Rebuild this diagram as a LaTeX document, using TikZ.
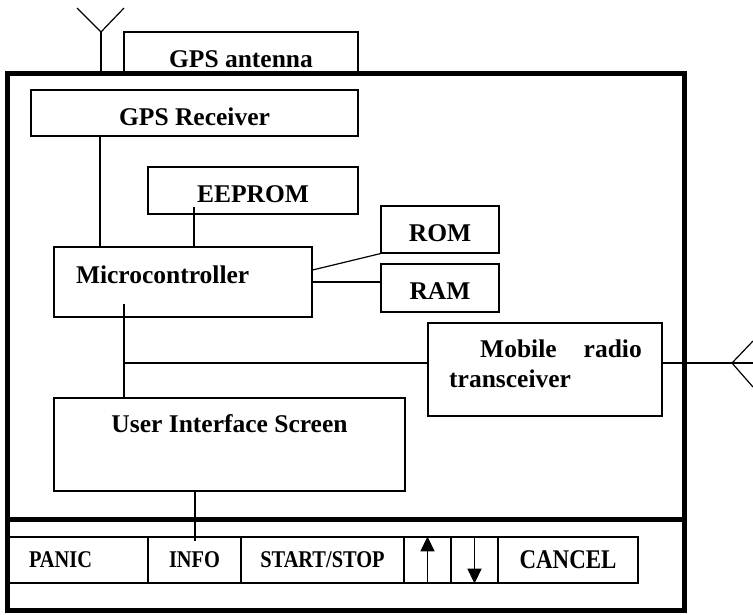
\documentclass[tikz,border=0pt]{standalone}
\usepackage{fontspec}
\setmainfont{Liberation Serif}
\newfontfamily\condfont[FakeStretch=0.85]{Liberation Serif}
\usetikzlibrary{arrows.meta}
\begin{document}
\begin{tikzpicture}[x=1pt,y=-1pt,
  box/.style={draw, line width=1.2pt, inner sep=0pt, font=\fontsize{25.5}{28}\selectfont\bfseries, text height=23pt, text depth=0pt},
  lbl/.style={inner sep=0pt, font=\fontsize{25.5}{28}\selectfont\bfseries},
  btn/.style={draw, line width=1.2pt, inner sep=0pt, minimum height=46pt, text depth=0pt, font=\condfont\fontsize{24}{26}\selectfont\bfseries},
  wire/.style={line width=1.2pt},
  thickline/.style={line width=5pt},
  arr/.style={line width=1.5pt, -{Triangle[width=14pt,length=15pt]}},
  ]
\useasboundingbox (0,0) rectangle (753,614);

% containers
\draw[thickline] (7,73.5) rectangle (684.5,519.5);
\draw[thickline] (7,519.5) rectangle (684.5,610.5);

% boxes
\node[box, minimum width=234pt, minimum height=41.5pt, text height=28.5pt] (ant) at (241,52.75) {GPS antenna};
\node[box, minimum width=327pt, minimum height=46pt, text height=24pt] (gpsr) at (194.5,113) {GPS Receiver};
\node[box, minimum width=210pt, minimum height=47pt] (ee) at (253,190.5) {EEPROM};
\node[box, minimum width=118pt, minimum height=47pt] (rom) at (440,229.5) {ROM};
\node[box, minimum width=118pt, minimum height=48pt] (ram) at (440,288) {RAM};
\node[box, minimum width=258pt, minimum height=70pt, text width=214pt, align=left, text height=17pt, text depth=15pt] (mc) at (183,282) {Microcontroller};
\node[box, minimum width=351pt, minimum height=93pt, text height=17pt, text depth=41pt] (ui) at (229.5,444.5) {User Interface Screen};
\node[box, minimum width=234pt, minimum height=93pt] (radio) at (545,369.5) {};
\node[lbl, anchor=base west] (r1) at (480,357) {Mobile};
\node[lbl, anchor=base east] (r2) at (642,357) {radio};
\node[lbl, anchor=base west] (r3) at (449,387) {transceiver};

% buttons
\node[btn, minimum width=141pt, text width=97pt, align=left] (panic) at (77.5,560) {PANIC};
\node[btn, minimum width=93pt] (info) at (194.5,560) {INFO};
\node[btn, minimum width=163pt] (start) at (322.5,560) {START/STOP};
\node[btn, minimum width=47pt] (up) at (427.5,560) {};
\node[btn, minimum width=47pt] (down) at (474.5,560) {};
\node[btn, minimum width=140pt, font=\condfont\fontsize{27}{29}\selectfont\bfseries] (cancel) at (568,560) {CANCEL};
\draw[arr] (up.south) -- (up.north);
\draw[arr] (down.north) -- (down.south);

% GPS antenna symbol
\coordinate (yv) at (101,32);
\coordinate (yl) at (77,8);
\coordinate (yr) at (124,8);
\coordinate (ys) at (101,73.5);
\draw[wire] (yl) -- (yv) -- (yr);
\draw[wire] (yv) -- (ys);

% radio antenna symbol
\coordinate (av) at (732,363);
\coordinate (au) at (753,341);
\coordinate (ad) at (753,387);
\coordinate (rend) at (753,363);
\draw[wire] (au) -- (av) -- (ad);

% connectors
\coordinate (gx) at (100,0);
\draw[wire] (gpsr.south -| gx) -- (mc.north -| gx);
\coordinate (eetop) at (194,207);
\draw[wire] (eetop) -- (mc.north -| eetop);
\draw[wire] ([yshift=12pt]mc.east) -- (rom.south west);
\draw[wire] (mc.east) -- (ram.west |- mc.east);
\coordinate (mcb) at (124,304);
\coordinate (bus) at (124,363);
\draw[wire] (mcb) -- (ui.north -| mcb);
\draw[line width=2.4pt] (124,322) -- (124,369);
\draw[wire] (bus) -- (radio.west |- bus);
\draw[wire] (radio.east |- bus) -- (rend);
\coordinate (infoend) at (195,541);
\draw[wire] (ui.south -| infoend) -- (infoend);
\end{tikzpicture}
\end{document}
